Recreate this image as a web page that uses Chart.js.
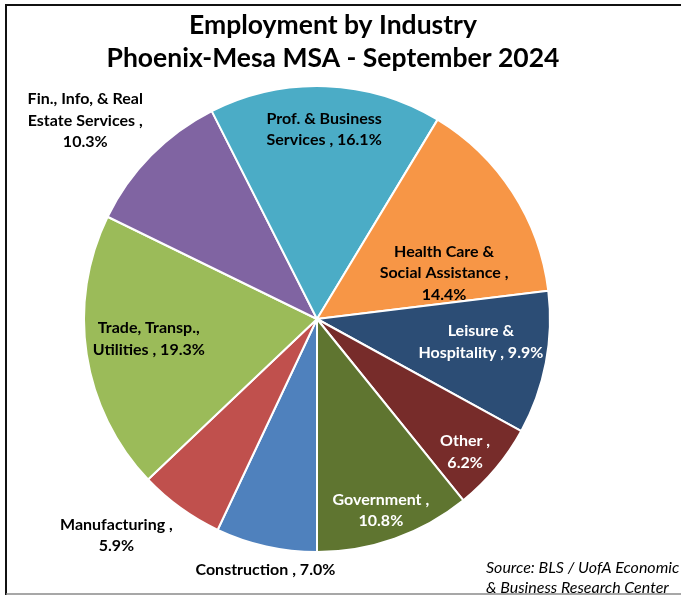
<!DOCTYPE html>
<html>
<head>
<meta charset="utf-8">
<script src="https://cdn.jsdelivr.net/npm/chart.js@4"></script>
<style>
  html, body { margin: 0; padding: 0; background: #fff; }
  #wrap { width: 681px; height: 595px; position: relative; }
</style>
</head>
<body>
<div id="wrap"><canvas id="c" width="681" height="595"></canvas></div>
<script>
// ---- Data (Excel series order, drawn clockwise from the bottom) ----
const categories = [
  "Construction",
  "Manufacturing",
  "Trade, Transp., Utilities",
  "Fin., Info, & Real Estate Services",
  "Prof. & Business Services",
  "Health Care & Social Assistance",
  "Leisure & Hospitality",
  "Other",
  "Government"
];
const shares = [7.0, 5.9, 19.3, 10.3, 16.1, 14.4, 9.9, 6.2, 10.8];
const labelLines = [
  ["Construction , 7.0%"],
  ["Manufacturing ,", "5.9%"],
  ["Trade, Transp.,", "Utilities , 19.3%"],
  ["Fin., Info, & Real", "Estate Services ,", "10.3%"],
  ["Prof. & Business", "Services , 16.1%"],
  ["Health Care &", "Social Assistance ,", "14.4%"],
  ["Leisure &", "Hospitality , 9.9%"],
  ["Other ,", "6.2%"],
  ["Government ,", "10.8%"]
];
const titleLines = ["Employment by Industry", "Phoenix-Mesa MSA - September 2024"];
const sourceLines = ["Source: BLS / UofA Economic", "& Business Research Center"];

// ---- Styles ----
const colors = ["#4F81BD", "#C0504D", "#9BBB59", "#8064A2", "#4BACC6", "#F79646", "#2C4D75", "#772C2A", "#5F7530"];
const labelColors = ["#000", "#000", "#000", "#000", "#000", "#000", "#fff", "#fff", "#fff"];
// label placement: [radius factor, angle offset in degrees] relative to slice mid-angle
const labelPlace = [[1.10, -1], [1.266, 7], [0.727, 2], [1.31, -4], [0.815, 0], [0.58, 13], [0.71, -3], [0.854, 2], [0.866, 1]];

const decorPlugin = {
  id: 'decor',
  afterDraw(chart) {
    const ctx = chart.ctx;
    ctx.save();
    // frame
    ctx.strokeStyle = "#111";
    ctx.lineWidth = 2;
    ctx.beginPath();
    ctx.moveTo(6, 595); ctx.lineTo(6, 5); ctx.lineTo(681, 5);
    ctx.stroke();
    ctx.strokeStyle = "#8a8a8a";
    ctx.lineWidth = 1.5;
    ctx.beginPath();
    ctx.moveTo(6, 594); ctx.lineTo(681, 594);
    ctx.stroke();

    // title
    ctx.fillStyle = "#000";
    ctx.textAlign = "center";
    ctx.textBaseline = "middle";
    ctx.font = "bold 26.5px Lato";
    ctx.fillText(titleLines[0], 333, 25);
    ctx.fillText(titleLines[1], 333, 58);

    // slice labels
    const meta = chart.getDatasetMeta(0);
    ctx.font = "bold 16px Lato";
    meta.data.forEach((arc, i) => {
      const p = arc.getProps(['x', 'y', 'startAngle', 'endAngle', 'outerRadius'], true);
      const mid = (p.startAngle + p.endAngle) / 2 + labelPlace[i][1] * Math.PI / 180;
      const r = p.outerRadius * labelPlace[i][0];
      const cx = p.x + Math.cos(mid) * r;
      const cy = p.y + Math.sin(mid) * r;
      const lines = labelLines[i];
      const lh = 21.5;
      ctx.fillStyle = labelColors[i];
      lines.forEach((t, k) => {
        ctx.fillText(t, cx, cy + (k - (lines.length - 1) / 2) * lh);
      });
    });

    // source
    ctx.fillStyle = "#000";
    ctx.textAlign = "left";
    ctx.font = "italic 16px Lato";
    ctx.fillText(sourceLines[0], 486, 568);
    ctx.fillText(sourceLines[1], 486, 588);
    ctx.restore();
  }
};

new Chart(document.getElementById('c'), {
  type: 'pie',
  data: {
    labels: categories,
    datasets: [{
      data: shares,
      backgroundColor: colors,
      borderColor: "#ffffff",
      borderWidth: 2
    }]
  },
  options: {
    responsive: false,
    animation: false,
    rotation: 180,
    layout: { padding: { left: 83, right: 130, top: 85, bottom: 42 } },
    plugins: {
      legend: { display: false },
      title: { display: false },
      tooltip: { enabled: false }
    }
  },
  plugins: [decorPlugin]
});
</script>
</body>
</html>
